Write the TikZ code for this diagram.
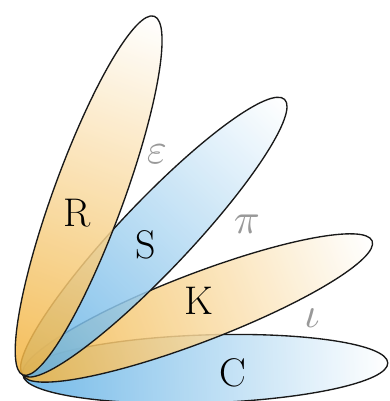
\documentclass[tikz,border=0pt]{standalone}
\usepackage{tikz}
\usepackage{graphicx}
\definecolor{petalorange}{HTML}{F2B33E}
\definecolor{petalblue}{HTML}{5CAEE4}
\definecolor{greekgray}{HTML}{999999}
\begin{document}
\begin{tikzpicture}[x=1pt,y=1pt,
  petal/.style={line width=1.35pt, draw=black!90, fill opacity=0.85, left color=#1, middle color=#1!38!white, right color=white},
  caplabel/.style={font=\fontsize{40}{40}\selectfont, inner sep=0pt, text=black},
  greeklabel/.style={inner sep=0pt, text=greekgray}]
\useasboundingbox (0,0) rectangle (389,401);
\coordinate (O) at (23,26);
% C petal
\begin{scope}[transform canvas={shift={(23,26)},rotate=1.9}]
  \shadedraw[petal=petalblue] (182.5,0) ellipse [x radius=182.5, y radius=34];
\end{scope}
% K petal
\begin{scope}[transform canvas={shift={(23,26)},rotate=21.0}]
  \shadedraw[petal=petalorange] (187,0) ellipse [x radius=187, y radius=34];
\end{scope}
% S petal
\begin{scope}[transform canvas={shift={(23,26)},rotate=46.5}]
  \shadedraw[petal=petalblue] (190,0) ellipse [x radius=190, y radius=35];
\end{scope}
% R petal
\begin{scope}[transform canvas={shift={(23,26)},rotate=69.9}]
  \shadedraw[petal=petalorange] (191,0) ellipse [x radius=191, y radius=35];
\end{scope}
\node[caplabel] (R) at (77,188) {R};
\node[caplabel] (S) at (146,156) {S};
\node[caplabel] (K) at (199,100) {K};
\node[caplabel] (C) at (233,28) {C};
\node[greeklabel] (eps) at (157,247) {\scalebox{4.3}{$\varepsilon$}};
\node[greeklabel] (pi) at (247,177) {\scalebox{4.3}{$\pi$}};
\node[greeklabel] (iota) at (312,83) {\scalebox{4.3}{$\iota$}};
\end{tikzpicture}
\end{document}
